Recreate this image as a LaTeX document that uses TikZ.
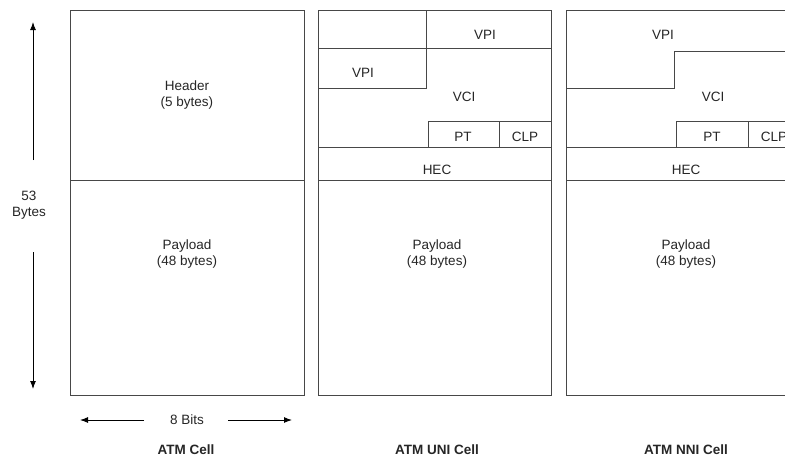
\documentclass[tikz,border=0pt]{standalone}
\usepackage{fontspec}
\setmainfont{Liberation Sans}
\usetikzlibrary{arrows.meta}
\begin{document}
\begin{tikzpicture}[x=1pt,y=-1pt,
  cellline/.style={draw=black!72, line width=1pt},
  lbl/.style={font=\fontsize{13.5}{16}\selectfont, text=black!85, inner sep=0pt, align=center},
  ttl/.style={font=\fontsize{13.5}{16}\selectfont\bfseries, text=black!85, inner sep=0pt},
  dimarrow/.style={draw=black, line width=1pt, -{Latex[length=8pt,width=6pt]}}]
\clip (0,0) rectangle (785,458);
\fill[white] (0,0) rectangle (785,458);

% ATM Cell
\draw[cellline] (70,10) rectangle (304,395);
\draw[cellline] (70,180) -- (304,180);
\node[lbl] (hdr) at (187,95) {Header\\(5 bytes)};
\node[lbl] (pay1) at (187,254) {Payload\\(48 bytes)};

% ATM UNI Cell
\draw[cellline] (318,10) rectangle (551,395);
\draw[cellline] (426,10) -- (426,88) -- (318,88);
\draw[cellline] (318,48) -- (551,48);
\draw[cellline] (428,147) -- (428,121) -- (551,121);
\draw[cellline] (499,121) -- (499,147);
\draw[cellline] (318,147) -- (551,147);
\draw[cellline] (318,180) -- (551,180);
\node[lbl] (uvpi1) at (485,35) {VPI};
\node[lbl] (uvpi2) at (363,73) {VPI};
\node[lbl] (uvci) at (464,97) {VCI};
\node[lbl] (upt) at (463,137) {PT};
\node[lbl] (uclp) at (525,137) {CLP};
\node[lbl] (uhec) at (437,170) {HEC};
\node[lbl] (upay) at (437,254) {Payload\\(48 bytes)};

% ATM NNI Cell
\draw[cellline] (800,10) -- (566,10) -- (566,395) -- (800,395);
\draw[cellline] (566,88) -- (674,88) -- (674,51) -- (800,51);
\draw[cellline] (676,147) -- (676,121) -- (800,121);
\draw[cellline] (748,121) -- (748,147);
\draw[cellline] (566,147) -- (800,147);
\draw[cellline] (566,180) -- (800,180);
\node[lbl] (nvpi) at (663,35) {VPI};
\node[lbl] (nvci) at (713,97) {VCI};
\node[lbl] (npt) at (712,137) {PT};
\node[lbl] (nclp) at (774,137) {CLP};
\node[lbl] (nhec) at (686,170) {HEC};
\node[lbl] (npay) at (686,254) {Payload\\(48 bytes)};

% 53 Bytes dimension
\coordinate (vtip) at (33,22);
\coordinate (vtop) at (33,160);
\coordinate (vbot) at (33,252);
\coordinate (vend) at (33,389);
\node[lbl] (bytes) at (29,205) {53\\Bytes};
\draw[dimarrow] (vtop) -- (vtip);
\draw[dimarrow] (vbot) -- (vend);

% 8 Bits dimension
\node[lbl] (bits) at (187,420) {8 Bits};
\coordinate (hl) at (144,420);
\coordinate (hltip) at (80,420);
\coordinate (hr) at (228,420);
\coordinate (hrtip) at (292,420);
\draw[dimarrow] (hl) -- (hltip);
\draw[dimarrow] (hr) -- (hrtip);

% Titles
\node[ttl] (t1) at (186,450) {ATM Cell};
\node[ttl] (t2) at (437,450) {ATM UNI Cell};
\node[ttl] (t3) at (686,450) {ATM NNI Cell};
\end{tikzpicture}
\end{document}
